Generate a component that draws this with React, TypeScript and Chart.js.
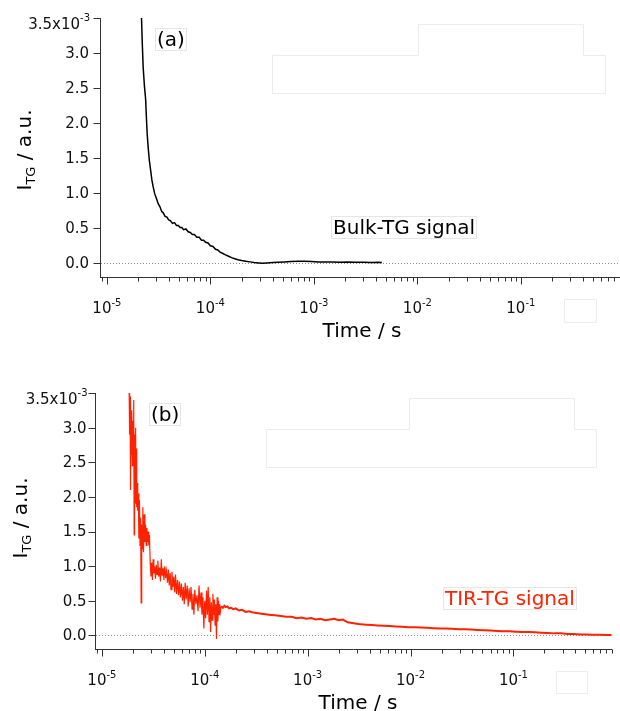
import React, { useEffect, useRef } from "react";
import { Chart, registerables } from "chart.js";

Chart.register(...registerables);

const FONT = '"DejaVu Sans", "Liberation Sans", sans-serif';

// ---------------- data ----------------
const xMinSeconds = 8.77e-6;
const xMaxSeconds = 0.908;
const yMin = -0.21;
const yMax = 3.5;

const yTickValues = [0, 0.5, 1.0, 1.5, 2.0, 2.5, 3.0];
const yTickLabels = ["0.0", "0.5", "1.0", "1.5", "2.0", "2.5", "3.0"];
const yTopTickValue = 3.5;
const yTopTickBase = "3.5x10";
const yTopTickExp = "-3";
const xDecadeExponents = [-5, -4, -3, -2, -1];
const xMinorMultipliers = [2, 3, 4, 5, 6, 7, 8, 9];
const xTitle = "Time / s";
const yTitleMain = "I";
const yTitleSub = "TG";
const yTitleRest = " / a.u.";

// Bulk-TG signal (time in microseconds, intensity in 10^-3 a.u.)
const bulkTimeUs = [
  20.5, 21.0, 21.6, 22.0, 22.4, 23.0, 23.7, 24.1, 24.5, 25.1,
  25.7, 26.5, 27.2, 28.0, 29.0, 30.0, 31.3, 32.5, 33.8, 35.0,
  36.5, 38.0, 39.5, 41, 43, 45, 47, 49, 51, 53,
  55, 58, 61, 64, 67, 70, 74, 78, 82, 86,
  90, 95, 100, 106, 112, 118, 124, 132, 140, 150,
  160, 172, 185, 200, 220, 240, 265, 290, 320, 350,
  400, 450, 520, 600, 700, 800, 950, 1100, 1300, 1500,
  1800, 2100, 2500, 3000, 3600, 4200, 4540,
];
const bulkValue = [
  4.6, 4.0, 3.5, 3.12, 2.8, 2.55, 2.33, 2.07, 1.85, 1.64,
  1.47, 1.32, 1.19, 1.09, 0.99, 0.93, 0.85, 0.81, 0.74, 0.72,
  0.67, 0.66, 0.62, 0.61, 0.57, 0.58, 0.54, 0.54, 0.51, 0.51,
  0.48, 0.49, 0.45, 0.44, 0.41, 0.41, 0.37, 0.37, 0.33, 0.33,
  0.30, 0.29, 0.25, 0.24, 0.20, 0.19, 0.16, 0.14, 0.12, 0.10,
  0.08, 0.065, 0.05, 0.04, 0.03, 0.02, 0.01, 0.005, 0.0, 0.005,
  0.01, 0.015, 0.02, 0.025, 0.03, 0.03, 0.025, 0.02, 0.02, 0.02,
  0.015, 0.02, 0.015, 0.015, 0.01, 0.015, 0.01,
];

// TIR-TG signal, noisy early part
const tirEarlyTimeUs = [
  18.4, 18.6, 18.8, 19.0, 19.2, 19.4, 19.6, 19.8, 20.0, 20.2,
  20.4, 20.6, 20.8, 21.0, 21.2, 21.4, 21.6, 21.8, 22.0, 22.3,
  22.6, 22.9, 23.2, 23.5, 23.8, 24.1, 24.4, 24.7, 25.0, 25.4,
  25.8, 26.2, 26.6, 27.0, 27.4, 27.8, 28.2, 28.6, 29.0, 29.5,
  30.0, 30.5, 31.0, 31.5, 32.0, 32.6, 33.2, 33.8, 34.4, 35.0,
  35.7, 36.4, 37.1, 37.8, 38.5, 39.3, 40.1, 40.9, 41.7, 42.5,
  43.4, 44.3, 45.2, 46.1, 47.0, 48.0, 49.0, 50.0, 51.0, 52.0,
  53.2, 54.4, 55.6, 56.8, 58.0, 59.3, 60.6, 61.9, 63.2, 64.5,
  66.0, 67.5, 69.0, 70.5, 72.0, 73.6, 75.2, 76.8, 78.4, 80.0,
  82, 84, 86, 88, 90, 92, 94, 96, 98, 100,
  102, 104, 106, 108, 110, 112, 114, 116, 118, 120,
  122, 124, 126, 128, 130, 132, 134, 136, 138, 140,
  142, 144,
];
const tirEarlyValue = [
  3.6, 2.9, 3.45, 2.1, 3.2, 2.6, 3.25, 2.45, 3.1, 2.5,
  3.4, 1.45, 2.9, 2.2, 3.0, 1.9, 2.7, 1.85, 2.2, 1.8,
  2.05, 1.4, 1.95, 1.3, 1.7, 0.47, 1.6, 1.25, 1.85, 1.2,
  1.75, 1.35, 1.6, 1.3, 1.55, 1.35, 1.5, 1.3, 1.45, 1.05,
  0.85, 1.05, 0.8, 1.1, 0.9, 1.0, 0.82, 1.02, 0.88, 1.08,
  0.85, 0.98, 0.78, 1.1, 0.86, 0.97, 0.8, 1.0, 0.83, 0.93,
  0.76, 0.95, 0.72, 0.9, 0.66, 0.92, 0.7, 0.85, 0.62, 0.88,
  0.6, 0.8, 0.58, 0.78, 0.55, 0.75, 0.5, 0.7, 0.45, 0.76,
  0.52, 0.72, 0.42, 0.68, 0.48, 0.7, 0.38, 0.6, 0.3, 0.66,
  0.45, 0.58, 0.35, 0.72, 0.4, 0.62, 0.3, 0.55, 0.1, 0.5,
  0.25, 0.65, 0.3, 0.7, 0.2, 0.55, 0.05, 0.48, 0.22, 0.6,
  0.3, 0.52, 0.15, 0.45, -0.05, 0.55, 0.2, 0.5, 0.3, 0.45,
  0.35, 0.42,
];

// TIR-TG signal, smooth tail
const tirTailTimeUs = [
  144, 146, 150, 155, 160, 166, 172, 180, 189, 200, 215,
  230, 250, 270, 297, 330, 370, 420, 480, 550, 620,
  700, 780, 870, 970, 1080, 1200, 1330, 1480, 1650, 1820,
  2000, 2200, 2450, 2700, 3000, 3300, 3700, 4200, 4800, 5500,
  6300, 7200, 8300, 9500, 11000, 12600, 14500, 16700, 19200, 22000,
  25500, 29500, 34000, 39000, 45000, 52000, 60000, 70000, 80000, 92000,
  106000, 122000, 140000, 162000, 186000, 215000, 250000, 290000, 335000, 385000,
  445000, 515000, 595000, 690000, 800000, 900000,
];
const tirTailValue = [
  0.42, 0.42, 0.40, 0.43, 0.41, 0.42, 0.39, 0.40, 0.38, 0.39, 0.36,
  0.37, 0.34, 0.35, 0.33, 0.32, 0.31, 0.30, 0.29, 0.28, 0.27,
  0.27, 0.25, 0.26, 0.24, 0.25, 0.23, 0.24, 0.22, 0.23, 0.24,
  0.22, 0.23, 0.19, 0.18, 0.17, 0.16, 0.155, 0.15, 0.145, 0.14,
  0.135, 0.13, 0.125, 0.12, 0.12, 0.115, 0.11, 0.105, 0.10, 0.10,
  0.095, 0.09, 0.09, 0.085, 0.08, 0.075, 0.07, 0.065, 0.06, 0.06,
  0.055, 0.05, 0.05, 0.045, 0.04, 0.035, 0.03, 0.03, 0.02, 0.02,
  0.015, 0.015, 0.01, 0.01, 0.005, 0.005,
];

// ---------------- panel styles ----------------
type Pt = [number, number];
type Series = { points: { x: number; y: number }[]; width: number };
type PanelStyle = {
  top: number;
  height: number;
  padding: { left: number; top: number; right: number; bottom: number };
  color: string;
  series: Series[];
  tag: { text: string; x: number; y: number };
  note: { text: string; x: number; y: number; color: string };
  yTitle: { baselineX: number; centerY: number };
  xTitle: { centerX: number; baseline: number };
  yLabelGap: number;
  outlines: Pt[][];
};

const toPoints = (t: number[], v: number[]) =>
  t.map((tu, i) => ({ x: tu * 1e-6, y: v[i] }));

const panels: PanelStyle[] = [
  {
    top: 0,
    height: 355,
    padding: { left: 101, top: 18, right: 0, bottom: 77 },
    color: "#000000",
    series: [{ points: toPoints(bulkTimeUs, bulkValue), width: 1.5 }],
    tag: { text: "(a)", x: 157, y: 46 },
    note: { text: "Bulk-TG signal", x: 333, y: 234, color: "#000000" },
    yTitle: { baselineX: 31, centerY: 150 },
    xTitle: { centerX: 362, baseline: 337 },
    yLabelGap: 11.5,
    outlines: [
      [[272, 55], [418, 55], [418, 24], [583, 24], [583, 55], [605, 55], [605, 93], [272, 93]],
      [[564, 299], [596, 299], [596, 322], [564, 322]],
    ],
  },
  {
    top: 355,
    height: 356,
    padding: { left: 96, top: 38, right: 8, bottom: 61 },
    color: "#ff2200",
    series: [
      { points: toPoints(tirEarlyTimeUs, tirEarlyValue), width: 1.2 },
      { points: toPoints(tirTailTimeUs, tirTailValue), width: 2 },
    ],
    tag: { text: "(b)", x: 151, y: 65.5 },
    note: { text: "TIR-TG signal", x: 445, y: 250, color: "#ff2200" },
    yTitle: { baselineX: 27, centerY: 163 },
    xTitle: { centerX: 358, baseline: 354 },
    yLabelGap: 9,
    outlines: [
      [[266, 74], [409, 74], [409, 43], [574, 43], [574, 74], [596, 74], [596, 112], [266, 112]],
      [[556, 316], [587, 316], [587, 338], [556, 338]],
    ],
  },
];

function drawWithSup(
  ctx: CanvasRenderingContext2D,
  base: string,
  sup: string,
  x: number,
  y: number,
  align: "center" | "right",
  baseSize: number,
  supSize: number,
  rise: number
) {
  ctx.font = `${baseSize}px ${FONT}`;
  const wb = ctx.measureText(base).width;
  ctx.font = `${supSize}px ${FONT}`;
  const ws = ctx.measureText(sup).width;
  const total = wb + ws;
  const x0 = align === "center" ? x - total / 2 : x - total;
  ctx.textAlign = "left";
  ctx.textBaseline = "alphabetic";
  ctx.font = `${baseSize}px ${FONT}`;
  ctx.fillText(base, x0, y);
  ctx.font = `${supSize}px ${FONT}`;
  ctx.fillText(sup, x0 + wb, y - rise);
}

function makePlugin(p: PanelStyle) {
  return {
    id: "panelDecor",
    beforeDatasetsDraw(chart: any) {
      const ctx: CanvasRenderingContext2D = chart.ctx;
      const ca = chart.chartArea;
      const ys = chart.scales.y;
      ctx.save();
      ctx.strokeStyle = "#ececec";
      ctx.lineWidth = 1;
      for (const poly of p.outlines) {
        ctx.beginPath();
        poly.forEach(([x, y], i) => {
          const px = Math.round(x) + 0.5;
          const py = Math.round(y) + 0.5;
          if (i === 0) ctx.moveTo(px, py);
          else ctx.lineTo(px, py);
        });
        ctx.closePath();
        ctx.stroke();
      }
      const y0 = Math.round(ys.getPixelForValue(0)) + 0.5;
      ctx.setLineDash([1, 2]);
      ctx.strokeStyle = "#8c8c8c";
      ctx.beginPath();
      ctx.moveTo(ca.left, y0);
      ctx.lineTo(ca.right, y0);
      ctx.stroke();
      ctx.restore();
    },
    afterDatasetsDraw(chart: any) {
      const ctx: CanvasRenderingContext2D = chart.ctx;
      const ca = chart.chartArea;
      const xs = chart.scales.x;
      const ys = chart.scales.y;
      const axX = ca.left - 0.5;
      const axY = ca.bottom - 0.5;
      ctx.save();
      ctx.strokeStyle = "#333333";
      ctx.fillStyle = "#111111";
      ctx.lineWidth = 1;
      ctx.setLineDash([]);
      // axis lines
      ctx.beginPath();
      ctx.moveTo(axX, ca.top);
      ctx.lineTo(axX, ca.bottom);
      ctx.moveTo(axX, axY);
      ctx.lineTo(ca.right, axY);
      ctx.stroke();

      // y ticks and labels
      const allY = yTickValues.concat([yTopTickValue]);
      ctx.beginPath();
      for (const v of allY) {
        const py = Math.round(ys.getPixelForValue(v)) + 0.5;
        ctx.moveTo(axX - 7, py);
        ctx.lineTo(axX, py);
      }
      ctx.stroke();
      ctx.font = `15px ${FONT}`;
      ctx.textAlign = "right";
      ctx.textBaseline = "middle";
      yTickValues.forEach((v, i) => {
        const py = ys.getPixelForValue(v);
        ctx.fillText(yTickLabels[i], axX - p.yLabelGap, py + 1);
      });
      const pTop = ys.getPixelForValue(yTopTickValue);
      drawWithSup(ctx, yTopTickBase, yTopTickExp, axX - p.yLabelGap + 1, pTop + 11, "right", 15, 10, 8);

      // x ticks
      ctx.beginPath();
      for (let k = -6; k <= 0; k++) {
        for (const m of [1].concat(xMinorMultipliers)) {
          const v = m * Math.pow(10, k);
          if (v < xMinSeconds || v > xMaxSeconds) continue;
          const px = Math.round(xs.getPixelForValue(v)) + 0.5;
          const len = m === 1 ? 7 : 4;
          ctx.moveTo(px, axY);
          ctx.lineTo(px, axY + len);
        }
      }
      ctx.stroke();
      for (const e of xDecadeExponents) {
        const px = xs.getPixelForValue(Math.pow(10, e));
        drawWithSup(ctx, "10", String(e), px, ca.bottom + 35, "center", 15, 10, 7);
      }

      // x title
      ctx.font = `20px ${FONT}`;
      ctx.textAlign = "center";
      ctx.textBaseline = "alphabetic";
      ctx.fillStyle = "#000000";
      ctx.fillText(xTitle, p.xTitle.centerX, p.xTitle.baseline);

      // y title (rotated, with subscript)
      ctx.font = `20px ${FONT}`;
      const w1 = ctx.measureText(yTitleMain).width;
      const w3 = ctx.measureText(yTitleRest).width;
      ctx.font = `13px ${FONT}`;
      const w2 = ctx.measureText(yTitleSub).width;
      const total = w1 + w2 + w3;
      ctx.save();
      ctx.translate(p.yTitle.baselineX, p.yTitle.centerY);
      ctx.rotate(-Math.PI / 2);
      ctx.textAlign = "left";
      let cx = -total / 2;
      ctx.font = `20px ${FONT}`;
      ctx.fillText(yTitleMain, cx, 0);
      cx += w1;
      ctx.font = `13px ${FONT}`;
      ctx.fillText(yTitleSub, cx, 4.3);
      cx += w2;
      ctx.font = `20px ${FONT}`;
      ctx.fillText(yTitleRest, cx, 0);
      ctx.restore();

      // tag and note boxes
      const drawBoxed = (text: string, x: number, y: number, color: string) => {
        ctx.font = `20px ${FONT}`;
        ctx.textAlign = "left";
        ctx.textBaseline = "alphabetic";
        const w = ctx.measureText(text).width;
        ctx.strokeStyle = "#e6e6e6";
        ctx.strokeRect(Math.round(x - 2) + 0.5, Math.round(y - 18) + 0.5, Math.round(w + 3), 22);
        ctx.fillStyle = color;
        ctx.fillText(text, x, y);
      };
      drawBoxed(p.tag.text, p.tag.x, p.tag.y, "#000000");
      drawBoxed(p.note.text, p.note.x, p.note.y, p.note.color);
      ctx.restore();
    },
  };
}

function Panel({ p }: { p: PanelStyle }) {
  const ref = useRef<HTMLCanvasElement>(null);
  useEffect(() => {
    if (!ref.current) return;
    const chart = new Chart(ref.current, {
      type: "line",
      data: {
        datasets: p.series.map((s) => ({
          data: s.points,
          borderColor: p.color,
          borderWidth: s.width,
          pointRadius: 0,
          tension: 0,
          fill: false,
        })),
      },
      options: {
        animation: false,
        responsive: false,
        maintainAspectRatio: false,
        events: [],
        layout: { padding: p.padding },
        plugins: { legend: { display: false }, tooltip: { enabled: false } },
        scales: {
          x: { type: "logarithmic", min: xMinSeconds, max: xMaxSeconds, display: false },
          y: { type: "linear", min: yMin, max: yMax, display: false },
        },
      } as any,
      plugins: [makePlugin(p) as any],
    });
    return () => chart.destroy();
  }, []);
  return (
    <canvas
      ref={ref}
      width={620}
      height={p.height}
      style={{ position: "absolute", left: 0, top: p.top, width: 620, height: p.height, display: "block" }}
    />
  );
}

export default function App() {
  return (
    <div style={{ position: "absolute", left: 0, top: 0, width: 620, height: 711, background: "#ffffff" }}>
      {panels.map((p, i) => (
        <Panel key={i} p={p} />
      ))}
    </div>
  );
}
